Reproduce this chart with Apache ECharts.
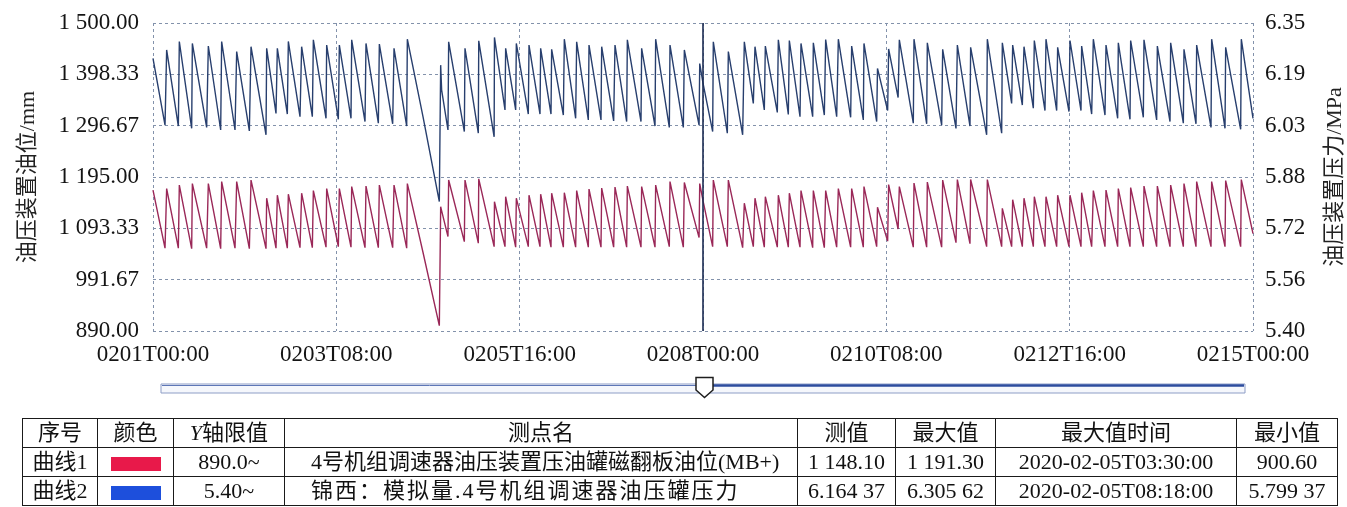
<!DOCTYPE html>
<html>
<head>
<meta charset="utf-8">
<script src="https://cdn.jsdelivr.net/npm/echarts@6/dist/echarts.min.js"></script>
<style>
  html, body { margin: 0; padding: 0; background: #fff; }
  #chart { position: absolute; left: 0; top: 0; width: 1347px; height: 507px; }
  #infoTable {
    position: absolute; left: 22px; top: 418px;
    border-collapse: collapse; table-layout: fixed;
    font-family: "Liberation Serif", "Noto Sans CJK SC", serif;
    font-size: 22px; color: #111;
  }
  #infoTable td {
    border: 1.5px solid #1a1a1a; height: 28px; padding: 0;
    text-align: center; white-space: nowrap; overflow: hidden; line-height: 28px;
  }
  #infoTable td.name { text-align: left; padding-left: 26px; }
  #infoTable td.wide { letter-spacing: 2px; }
  #infoTable td.head { text-align: center; padding-left: 0; }
  .swatch { display: inline-block; width: 50px; height: 14px; vertical-align: middle; }
</style>
</head>
<body>
<div id="chart"></div>
<table id="infoTable"></table>
<script>
// Sample times, hours after 2020-02-01T00:00
const hours = [
  0, 3.67, 4.17, 7.74, 8.04, 11.81, 12.02, 16.39, 16.9, 20.67,
  20.97, 25.05, 25.56, 29.43, 29.94, 34.52, 34.72, 37.57, 37.98, 41.03,
  41.34, 44.9, 45.4, 48.67, 48.98, 52.85, 53.05, 56.61, 56.92, 60.48,
  60.69, 64.76, 65.06, 68.83, 69.14, 73.21, 73.62, 77.49, 77.69, 82.5,
  87.46, 87.66, 87.87, 88.17, 90.1, 90.31, 95.1, 95.3, 99.37, 99.5,
  104.2, 104.3, 107.52, 107.72, 110.78, 110.98, 114.64, 114.85, 118.21, 118.41,
  121.57, 121.77, 125.34, 125.64, 129.1, 129.41, 132.97, 133.18, 136.84, 137.05,
  140.71, 141.12, 144.68, 144.89, 149.06, 149.26, 153.34, 153.54, 157.71, 157.92,
  161.99, 162.3, 166.8, 167.0, 168, 170.95, 171.15, 175.43, 175.74, 180.11,
  180.62, 183.37, 183.88, 186.73, 187.04, 190.7, 191.01, 194.06, 194.37, 197.63,
  197.93, 201.5, 201.7, 205.06, 205.47, 208.83, 209.34, 213.1, 213.41, 216.97,
  217.17, 221.05, 221.3, 224.4, 224.7, 227.6, 227.97, 232.24, 232.45, 236.32,
  236.52, 240.9, 241.21, 245.28, 245.69, 249.55, 249.75, 254.64, 254.85, 259.23,
  259.43, 262.28, 262.59, 265.54, 266.05, 268.9, 269.2, 272.46, 272.77, 276.03,
  276.33, 279.79, 280.1, 283.46, 283.66, 286.72, 287.23, 290.79, 291.1, 294.66,
  294.86, 298.43, 298.63, 302.5, 302.7, 306.57, 306.78, 310.65, 310.85, 314.72,
  314.92, 318.59, 318.79, 323.17, 323.37, 327.45, 327.65, 332.23, 332.43, 336
];

// Curve 1: oil level of the pressure tank, mm
const oilLevel = [
  1169, 1054, 1172, 1054, 1179, 1053, 1182, 1054, 1182, 1053,
  1186, 1054, 1186, 1053, 1189, 1053, 1153, 1054, 1159, 1054,
  1161, 1055, 1163, 1055, 1168, 1056, 1172, 1057, 1172, 1056,
  1176, 1055, 1177, 1055, 1179, 1055, 1179, 1054, 1182, 1045,
  900.6, 1017, 1136, 1128, 1077, 1189, 1067, 1189, 1064, 1191.3,
  1057, 1146, 1057, 1156, 1056, 1153, 1057, 1159, 1057, 1161,
  1056, 1163, 1056, 1164, 1056, 1168, 1056, 1171, 1056, 1173,
  1056, 1175, 1056, 1177, 1056, 1176, 1056, 1179, 1057, 1186,
  1056, 1184, 1075, 1182, 1148.1, 1057, 1189, 1057, 1189, 1055,
  1143, 1057, 1153, 1056, 1156, 1056, 1159, 1056, 1163, 1056,
  1168, 1055, 1168, 1055, 1168, 1056, 1172, 1056, 1172, 1056,
  1176, 1057, 1135, 1068, 1180, 1092, 1176, 1056, 1183, 1056,
  1185, 1056, 1189, 1065, 1190, 1063, 1190, 1057, 1190, 1057,
  1133, 1057, 1150, 1057, 1153, 1057, 1156, 1057, 1156, 1057,
  1159, 1057, 1159, 1057, 1164, 1057, 1168, 1057, 1169, 1057,
  1172, 1057, 1174, 1057, 1177, 1057, 1177, 1057, 1179, 1057,
  1182, 1057, 1186, 1057, 1186, 1057, 1188, 1057, 1190, 1083
];

// Curve 2: pressure of the pressure tank, MPa
const oilPressure = [
  6.241, 6.035, 6.267, 6.032, 6.293, 6.025, 6.287, 6.028, 6.279, 6.020,
  6.293, 6.020, 6.262, 6.017, 6.277, 6.005, 6.272, 6.071, 6.272, 6.069,
  6.293, 6.061, 6.277, 6.061, 6.298, 6.056, 6.282, 6.053, 6.282, 6.056,
  6.298, 6.046, 6.287, 6.041, 6.285, 6.039, 6.272, 6.032, 6.300, 6.060,
  5.79937, 6.010, 6.220, 6.143, 6.020, 6.292, 6.015, 6.272, 6.010, 6.295,
  5.999, 6.30562, 6.082, 6.272, 6.082, 6.287, 6.069, 6.282, 6.069, 6.272,
  6.069, 6.269, 6.066, 6.300, 6.056, 6.292, 6.051, 6.282, 6.051, 6.277,
  6.048, 6.282, 6.046, 6.298, 6.046, 6.272, 6.032, 6.300, 6.028, 6.282,
  6.028, 6.267, 6.035, 6.225, 6.16437, 6.015, 6.292, 6.010, 6.262, 6.005,
  6.292, 6.102, 6.277, 6.082, 6.279, 6.074, 6.298, 6.068, 6.296, 6.061,
  6.287, 6.061, 6.289, 6.066, 6.299, 6.061, 6.300, 6.059, 6.279, 6.051,
  6.287, 6.046, 6.210, 6.080, 6.270, 6.120, 6.298, 6.041, 6.300, 6.039,
  6.289, 6.035, 6.269, 6.025, 6.282, 6.032, 6.275, 6.005, 6.300, 6.010,
  6.289, 6.102, 6.282, 6.097, 6.277, 6.087, 6.296, 6.080, 6.300, 6.080,
  6.275, 6.077, 6.296, 6.080, 6.279, 6.069, 6.300, 6.066, 6.282, 6.056,
  6.289, 6.053, 6.296, 6.059, 6.298, 6.051, 6.279, 6.046, 6.289, 6.041,
  6.269, 6.039, 6.282, 6.028, 6.300, 6.025, 6.275, 6.022, 6.300, 6.056
];

// Axis ranges and the cursor position (hours)
const levelRange = [890, 1500];
const pressureRange = [5.40, 6.35];
const timeRange = [0, 336];
const timeStep = 56;
const cursorHour = 168;

// Info table rows
const tableHeader = ['序号', '颜色', 'Y轴限值', '测点名', '测值', '最大值', '最大值时间', '最小值'];
const curveLabels = ['曲线1', '曲线2'];
const curveSwatches = ['#e8194a', '#1d4fdc'];
const axisFloors = ['890.0~', '5.40~'];
const pointNames = ['4号机组调速器油压装置压油罐磁翻板油位(MB+)', '锦西：模拟量.4号机组调速器油压罐压力'];
const currentValues = ['1 148.10', '6.164 37'];
const maxValues = ['1 191.30', '6.305 62'];
const maxTimes = ['2020-02-05T03:30:00', '2020-02-05T08:18:00'];
const minValues = ['900.60', '5.799 37'];
const columnWidths = [75, 76, 111, 513, 98, 100, 241, 101];

const pad = n => (n < 10 ? '0' : '') + n;
function timeLabel(h) {
  const day = Math.floor(h / 24) + 1;
  const hr = Math.round(h % 24);
  return '02' + pad(day) + 'T' + pad(hr) + ':00';
}
function grouped(v, dec) {
  const parts = v.toFixed(dec).split('.');
  return parts[0].replace(/\B(?=(\d{3})+(?!\d))/g, ' ') + '.' + parts[1];
}
function sixSteps(range) {
  const out = [];
  for (let k = 0; k <= 6; k++) out.push(range[0] + (range[1] - range[0]) * k / 6);
  return out;
}
const levelTicks = sixSteps(levelRange);
const pressureTicks = sixSteps(pressureRange);

const levelData = hours.map((h, i) => [h, oilLevel[i]]);
const pressureData = hours.map((h, i) => [h, oilPressure[i]]);

const serif = '"Liberation Serif", "Times New Roman", serif';
const nameFont = '"Liberation Serif", "Noto Sans CJK SC", serif';
const gridDash = { color: '#8392ab', width: 1, type: [3, 3] };

const chart = echarts.init(document.getElementById('chart'), null, { renderer: 'canvas' });
chart.setOption({
  animation: false,
  backgroundColor: '#ffffff',
  grid: { left: 153, right: 94, top: 23, bottom: 176, outerBoundsMode: 'none' },
  xAxis: {
    type: 'value', min: timeRange[0], max: timeRange[1], interval: timeStep,
    axisLine: { show: false }, axisTick: { show: false },
    splitLine: { show: true, lineStyle: gridDash },
    axisLabel: {
      margin: 12, fontFamily: serif, fontSize: 23, color: '#141414',
      formatter: v => timeLabel(v)
    }
  },
  yAxis: [
    {
      type: 'value', min: levelRange[0], max: levelRange[1],
      name: '油压装置油位/mm', nameLocation: 'middle', nameRotate: 90, nameGap: 114,
      nameTextStyle: { fontFamily: nameFont, fontSize: 22, color: '#222' },
      axisLine: { show: false },
      axisTick: { show: false, customValues: levelTicks },
      splitLine: { show: true, lineStyle: gridDash },
      axisLabel: {
        customValues: levelTicks, margin: 14, fontFamily: serif, fontSize: 23, color: '#141414',
        formatter: v => grouped(v, 2)
      }
    },
    {
      type: 'value', min: pressureRange[0], max: pressureRange[1], position: 'right',
      name: '油压装置压力/MPa', nameLocation: 'middle', nameRotate: 90, nameGap: 71,
      nameTextStyle: { fontFamily: nameFont, fontSize: 22, color: '#222' },
      axisLine: { show: false },
      axisTick: { show: false, customValues: pressureTicks },
      splitLine: { show: false },
      axisLabel: {
        customValues: pressureTicks, margin: 12, fontFamily: serif, fontSize: 23, color: '#141414',
        formatter: v => v.toFixed(2)
      }
    }
  ],
  series: [
    {
      name: '曲线1', type: 'line', yAxisIndex: 0, data: levelData,
      showSymbol: false, symbol: 'none', silent: true,
      lineStyle: { color: '#9a2858', width: 1.4 }
    },
    {
      name: '曲线2', type: 'line', yAxisIndex: 1, data: pressureData,
      showSymbol: false, symbol: 'none', silent: true,
      lineStyle: { color: '#283f6e', width: 1.4 },
      markLine: {
        silent: true, symbol: 'none', animation: false,
        label: { show: false },
        lineStyle: { color: '#1b2b52', width: 1.6, type: 'solid' },
        data: [{ xAxis: cursorHour }]
      }
    }
  ],
  graphic: [
    // scroll track
    { type: 'rect', shape: { x: 161, y: 384, width: 1084, height: 9 },
      style: { fill: '#f5f7fc', stroke: '#8d9dc6', lineWidth: 1 }, silent: true },
    { type: 'line', shape: { x1: 162, y1: 385.5, x2: 697, y2: 385.5 },
      style: { stroke: '#5d76b6', lineWidth: 1 }, silent: true },
    { type: 'line', shape: { x1: 712, y1: 385.5, x2: 1244, y2: 385.5 },
      style: { stroke: '#2d4c9e', lineWidth: 2.5 }, silent: true },
    // scroll handle
    { type: 'polygon',
      shape: { points: [[696, 377.5], [713, 377.5], [713, 390], [704.5, 397.5], [696, 390]] },
      style: { fill: '#ffffff', stroke: '#1e1e1e', lineWidth: 1.5 }, silent: true, z: 10 }
  ]
});

// Info table under the chart
const table = document.getElementById('infoTable');
const cg = document.createElement('colgroup');
columnWidths.forEach(w => { const c = document.createElement('col'); c.style.width = w + 'px'; cg.appendChild(c); });
table.appendChild(cg);
const headRow = table.insertRow();
tableHeader.forEach((t, i) => {
  const td = headRow.insertCell();
  if (i === 2) {
    const it = document.createElement('i'); it.textContent = t.charAt(0);
    td.appendChild(it); td.appendChild(document.createTextNode(t.slice(1)));
  } else {
    td.textContent = t;
  }
  td.className = 'head';
});
curveLabels.forEach((label, r) => {
  const row = table.insertRow();
  row.insertCell().textContent = label;
  const sw = row.insertCell();
  const box = document.createElement('span'); box.className = 'swatch'; box.style.background = curveSwatches[r];
  sw.appendChild(box);
  row.insertCell().textContent = axisFloors[r];
  const nm = row.insertCell(); nm.textContent = pointNames[r]; nm.className = r === 1 ? 'name wide' : 'name';
  row.insertCell().textContent = currentValues[r];
  row.insertCell().textContent = maxValues[r];
  row.insertCell().textContent = maxTimes[r];
  row.insertCell().textContent = minValues[r];
});
</script>
</body>
</html>
